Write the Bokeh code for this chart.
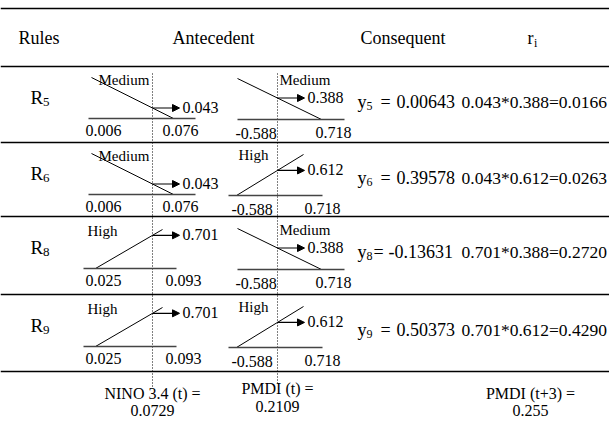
from bokeh.plotting import figure
from bokeh.models import Range1d, Arrow, NormalHead, ColumnDataSource
from bokeh.core.properties import value
from bokeh.embed import file_html
from bokeh.resources import INLINE

# ---------------- data ----------------
rules = ["5", "6", "8", "9"]
nino_sets = ["Medium", "Medium", "High", "High"]
nino_low = ["0.006", "0.006", "0.025", "0.025"]
nino_high = ["0.076", "0.076", "0.093", "0.093"]
nino_mu = ["0.043", "0.043", "0.701", "0.701"]
pmdi_sets = ["Medium", "High", "Medium", "High"]
pmdi_low = ["-0.588", "-0.588", "-0.588", "-0.588"]
pmdi_high = ["0.718", "0.718", "0.718", "0.718"]
pmdi_mu = ["0.388", "0.612", "0.388", "0.612"]
consequents = ["0.00643", "0.39578", "-0.13631", "0.50373"]
eq_spaced = [True, True, False, True]
firing = ["0.0166", "0.0263", "0.2720", "0.4290"]
headers = ["Rules", "Antecedent", "Consequent"]
input_names = ["NINO 3.4 (t) =", "PMDI (t) =", "PMDI (t+3) ="]
input_values = ["0.0729", "0.2109", "0.255"]

# ---------------- layout ----------------
FONT = value("Liberation Serif")
W, H = 609, 423
p = figure(width=W, height=H, output_backend="svg", toolbar_location=None,
           x_range=Range1d(0, W), y_range=Range1d(H, 0),
           min_border=0, outline_line_color=None)
p.axis.visible = False
p.grid.visible = False
p.background_fill_color = "white"

row_lines = [8, 66, 142, 216, 294, 371]
row_tops = row_lines[1:5]
XL, XR = 152, 277  # dotted input lines

# table rules
p.segment(x0=[0] * len(row_lines), x1=[W] * len(row_lines), y0=row_lines, y1=row_lines,
          line_color="black", line_width=1.5)

# dotted input lines
p.segment(x0=[XL, XR], x1=[XL, XR], y0=[73, 73], y1=[387, 383],
          line_color="black", line_width=1, line_dash="1 2")

# membership-function shapes (schematic)
left_geom = {"Medium": dict(line=(91, 11, 173, 52), base=(88, 195, 52), lab=(98, 13),
                            hi_x=162),
             "High": dict(line=(95, 52, 162, 13), base=(83, 176, 52), lab=(87, 14),
                          hi_x=165)}
right_geom = {"Medium": dict(line=(237, 12, 321, 53), base=(237, 344, 53), lab=(279, 13),
                             lo_x=235, hi_x=315),
              "High": dict(line=(236, 53, 303, 12), base=(228, 322, 53), lab=(238, 12),
                           lo_x=231, hi_x=304)}

seg = dict(x0=[], y0=[], x1=[], y1=[])
base = dict(x0=[], y0=[], x1=[], y1=[])
arr = dict(xs=[], ys=[], xe=[], ye=[])
num = dict(x=[], y=[], t=[])
lab = dict(x=[], y=[], t=[])


def cross(line, xv, top):
    x0, r0, x1, r1 = line
    f = (xv - x0) / (x1 - x0)
    return top + r0 + f * (r1 - r0)


for i, top in enumerate(row_tops):
    for geom, xv, sets, mu in ((left_geom[nino_sets[i]], XL, nino_sets[i], nino_mu[i]),
                               (right_geom[pmdi_sets[i]], XR, pmdi_sets[i], pmdi_mu[i])):
        x0, r0, x1, r1 = geom["line"]
        seg["x0"].append(x0); seg["y0"].append(top + r0)
        seg["x1"].append(x1); seg["y1"].append(top + r1)
        b0, b1, br = geom["base"]
        base["x0"].append(b0); base["x1"].append(b1)
        base["y0"].append(top + br); base["y1"].append(top + br)
        ya = cross(geom["line"], xv, top)
        arr["xs"].append(xv); arr["ys"].append(ya)
        arr["xe"].append(xv + 27); arr["ye"].append(ya)
        num["x"].append(xv + 30); num["y"].append(ya - 1); num["t"].append(mu)
        lx, lr = geom["lab"]
        lab["x"].append(lx); lab["y"].append(top + lr); lab["t"].append(sets)
    # tick labels
    lg = left_geom[nino_sets[i]]
    num["x"] += [85, lg["hi_x"]]; num["y"] += [top + 64, top + 64]
    num["t"] += [nino_low[i], nino_high[i]]
    rg = right_geom[pmdi_sets[i]]
    num["x"] += [rg["lo_x"], rg["hi_x"]]; num["y"] += [top + 67, top + 66]
    num["t"] += [pmdi_low[i], pmdi_high[i]]

p.segment(x0="x0", y0="y0", x1="x1", y1="y1", source=ColumnDataSource(seg),
          line_color="black", line_width=1)
p.segment(x0="x0", y0="y0", x1="x1", y1="y1", source=ColumnDataSource(base),
          line_color="#444444", line_width=1.4)
p.add_layout(Arrow(end=NormalHead(size=7, fill_color="black", line_color="black"),
                   x_start="xs", y_start="ys", x_end="xe", y_end="ye",
                   source=ColumnDataSource(arr), line_color="black", line_width=1.2))
p.text(x="x", y="y", text="t", source=ColumnDataSource(num), text_font=FONT,
       text_font_size="16px", text_baseline="middle", text_align="left", text_color="black")
p.text(x="x", y="y", text="t", source=ColumnDataSource(lab), text_font=FONT,
       text_font_size="15px", text_baseline="middle", text_align="left", text_color="black")

# headers
HF = "18px"
p.text(x=[18], y=[37], text=[headers[0]], text_font=FONT, text_font_size=HF,
       text_baseline="middle", text_align="left")
p.text(x=[213], y=[37], text=[headers[1]], text_font=FONT, text_font_size=HF,
       text_baseline="middle", text_align="center")
p.text(x=[360], y=[37], text=[headers[2]], text_font=FONT, text_font_size=HF,
       text_baseline="middle", text_align="left")
p.text(x=[527], y=[37], text=["r"], text_font=FONT, text_font_size=HF,
       text_baseline="middle", text_align="left")
p.text(x=[533.5], y=[42], text=["i"], text_font=FONT, text_font_size="12px",
       text_baseline="middle", text_align="left")

# rule labels, consequents, firing strengths
R_rel, C_rel = 31, 35
p.text(x=[30] * 4, y=[t + R_rel for t in row_tops], text=["R"] * 4, text_font=FONT,
       text_font_size="19px", text_baseline="middle", text_align="left")
p.text(x=[42.5] * 4, y=[t + R_rel + 4 for t in row_tops], text=rules, text_font=FONT,
       text_font_size="13px", text_baseline="middle", text_align="left")
p.text(x=[357] * 4, y=[t + C_rel for t in row_tops], text=["y"] * 4, text_font=FONT,
       text_font_size="18px", text_baseline="middle", text_align="left")
p.text(x=[366] * 4, y=[t + C_rel + 4 for t in row_tops], text=rules, text_font=FONT,
       text_font_size="12px", text_baseline="middle", text_align="left")
p.text(x=[380 if s else 373 for s in eq_spaced], y=[t + C_rel for t in row_tops],
       text=["="] * 4, text_font=FONT,
       text_font_size="18px", text_baseline="middle", text_align="left")
p.text(x=[396 if s else 388 for s in eq_spaced], y=[t + C_rel for t in row_tops],
       text=consequents, text_font=FONT,
       text_font_size="18px", text_baseline="middle", text_align="left")
p.text(x=[461] * 4, y=[t + C_rel for t in row_tops],
       text=[f"{a}*{b}={r}" for a, b, r in zip(nino_mu, pmdi_mu, firing)], text_font=FONT,
       text_font_size="17.5px", text_baseline="middle", text_align="left")

# input values at the bottom
p.text(x=[XL, XR, 530], y=[393, 388, 393], text=input_names, text_font=FONT,
       text_font_size="16px", text_baseline="middle", text_align="center")
p.text(x=[XL, XR, 530], y=[410, 406, 410], text=input_values, text_font=FONT,
       text_font_size="16px", text_baseline="middle", text_align="center")

open("out.html", "w").write(file_html(p, INLINE))
